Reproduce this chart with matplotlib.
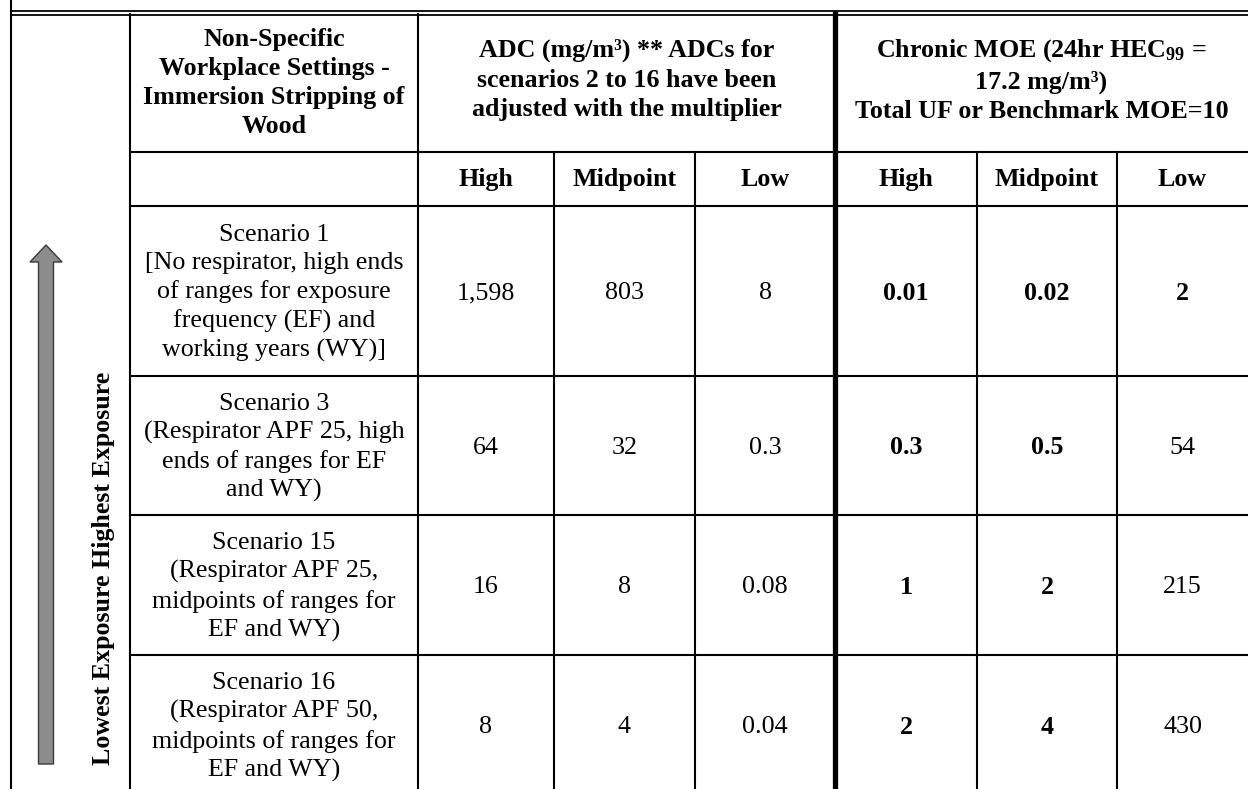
import matplotlib
matplotlib.use("Agg")
import matplotlib.pyplot as plt
from matplotlib.patches import FancyArrow

plt.rcParams['font.family'] = ['Liberation Serif', 'DejaVu Serif']
plt.rcParams['mathtext.fontset'] = 'custom'
plt.rcParams['mathtext.rm'] = 'Liberation Serif'
plt.rcParams['mathtext.bf'] = 'Liberation Serif:bold'

# table content
setting_header = "Non-Specific\nWorkplace Settings -\nImmersion Stripping of\nWood"
adc_header = "ADC (mg/m³) ** ADCs for\nscenarios 2 to 16 have been\nadjusted with the multiplier"
moe_header = "Chronic MOE (24hr HEC$\\mathbf{_{99}}$ =\n17.2 mg/m³)\nTotal UF or Benchmark MOE=10"
sub_headers = ["High", "Midpoint", "Low"]
side_label = "Lowest Exposure Highest Exposure"

scenarios = [
    "Scenario 1\n[No respirator, high ends\nof ranges for exposure\nfrequency (EF) and\nworking years (WY)]",
    "Scenario 3\n(Respirator APF 25, high\nends of ranges for EF\nand WY)",
    "Scenario 15\n(Respirator APF 25,\nmidpoints of ranges for\nEF and WY)",
    "Scenario 16\n(Respirator APF 50,\nmidpoints of ranges for\nEF and WY)",
]
adc_high = [1598, 64, 16, 8]
adc_mid = [803, 32, 8, 4]
adc_low = [8, 0.3, 0.08, 0.04]
moe_high = [0.01, 0.3, 1, 2]
moe_mid = [0.02, 0.5, 2, 4]
moe_low = [2, 54, 215, 430]
benchmark_moe = 10

# grid geometry (pixels)
col_x = [11, 130, 418, 554, 695, 835, 977, 1117, 1248]
row_y = [14, 152, 206, 376, 515, 655, 795]

FS = 18.7
LS = 1.35

fig = plt.figure(figsize=(12.48, 7.89), dpi=100)
ax = fig.add_axes([0, 0, 1, 1])
ax.set_xlim(0, 1248)
ax.set_ylim(789, 0)
ax.axis('off')

lw = 1.5
# top double rule and outer left border
ax.plot([col_x[0], 1248], [11, 11], color='black', lw=1.3)
ax.plot([col_x[0], 1248], [14.5, 14.5], color='black', lw=1.3)
ax.plot([col_x[0], col_x[0]], [0, 795], color='black', lw=lw)

# horizontal rules (first column is one merged cell)
for y in row_y[1:-1]:
    ax.plot([col_x[1], 1248], [y, y], color='black', lw=lw)

# vertical rules
ax.plot([col_x[1], col_x[1]], [row_y[0], 795], color='black', lw=lw)
ax.plot([col_x[2], col_x[2]], [row_y[0], 795], color='black', lw=lw)
for x in [col_x[3], col_x[4], col_x[6], col_x[7]]:
    ax.plot([x, x], [row_y[1], 795], color='black', lw=lw)
ax.plot([col_x[5], col_x[5]], [row_y[0], 795], color='black', lw=3.8)

# headers
cx = [(col_x[i] + col_x[i + 1]) / 2 for i in range(len(col_x) - 1)]
hy = (row_y[0] + row_y[1]) / 2
ax.text(cx[1], hy, setting_header, ha='center', va='center', fontsize=FS,
        fontweight='bold', linespacing=LS, multialignment='center')
ax.text((col_x[2] + col_x[5]) / 2, hy - 3, adc_header, ha='center', va='center',
        fontsize=FS, fontweight='bold', linespacing=LS, multialignment='center')
ax.text((col_x[5] + col_x[8]) / 2, hy - 3, moe_header, ha='center', va='center',
        fontsize=FS, fontweight='bold', linespacing=LS, multialignment='center')

sy = (row_y[1] + row_y[2]) / 2
for i, name in enumerate(sub_headers * 2):
    ax.text(cx[2 + i], sy, name, ha='center', va='center', fontsize=FS, fontweight='bold')

# body rows
for r in range(len(scenarios)):
    ry = (row_y[2 + r] + row_y[3 + r]) / 2 + 2
    ax.text(cx[1], ry, scenarios[r], ha='center', va='center', fontsize=FS,
            linespacing=LS, multialignment='center')
    for j, vals in enumerate([adc_high, adc_mid, adc_low]):
        ax.text(cx[2 + j], ry, format(vals[r], ',g'), ha='center', va='center', fontsize=FS)
    for j, vals in enumerate([moe_high, moe_mid, moe_low]):
        wt = 'bold' if vals[r] < benchmark_moe else 'normal'
        ax.text(cx[5 + j], ry, format(vals[r], 'g'), ha='center', va='center',
                fontsize=FS, fontweight=wt)

# exposure arrow and side label
arrow = FancyArrow(46, 764, 0, -519, width=15, head_width=32, head_length=17,
                   length_includes_head=True, facecolor='#8c8c8c', edgecolor='#3a3a3a', lw=1)
ax.add_patch(arrow)
ax.text(104, 568, side_label, rotation=90, ha='center', va='center',
        fontsize=FS, fontweight='bold')

fig.savefig("out.png", dpi=100)
